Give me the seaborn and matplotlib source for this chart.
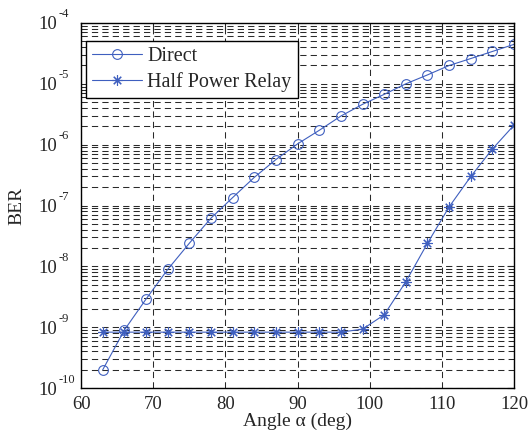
import numpy as np
import pandas as pd
import seaborn as sns
import matplotlib
matplotlib.use("Agg")
import matplotlib.pyplot as plt
from matplotlib.ticker import LogLocator, FixedLocator, NullFormatter

angles = [63, 66, 69, 72, 75, 78, 81, 84, 87, 90, 93, 96, 99, 102, 105, 108, 111, 114, 117, 120]
ber_direct = [2.0e-10, 9.0e-10, 2.9e-9, 8.9e-9, 2.4e-8, 6.2e-8, 1.35e-7, 2.9e-7, 5.7e-7, 1.03e-6,
              1.72e-6, 2.95e-6, 4.6e-6, 6.7e-6, 1.0e-5, 1.4e-5, 2.0e-5, 2.6e-5, 3.4e-5, 4.45e-5]
ber_relay = [8.3e-10, 8.3e-10, 8.3e-10, 8.3e-10, 8.3e-10, 8.3e-10, 8.3e-10, 8.3e-10, 8.3e-10, 8.3e-10,
             8.3e-10, 8.3e-10, 9.3e-10, 1.6e-9, 5.6e-9, 2.4e-8, 9.5e-8, 3.0e-7, 8.5e-7, 2.1e-6]
series_names = ["Direct", "Half Power Relay"]
x_ticks = [60, 70, 80, 90, 100, 110, 120]
y_exponents = [-10, -9, -8, -7, -6, -5, -4]

df_direct = pd.DataFrame({"angle": angles, "ber": ber_direct})
df_relay = pd.DataFrame({"angle": angles, "ber": ber_relay})

sns.set_style("white")
plt.rcParams["font.family"] = ["Liberation Serif", "DejaVu Serif"]

blue = "#3f5fbf"
fig = plt.figure(figsize=(5.30, 4.41), dpi=100)
ax = fig.add_axes([0.153, 0.120, 0.817, 0.828])

sns.lineplot(data=df_direct, x="angle", y="ber", ax=ax, color=blue, label=series_names[0],
             marker="o", linewidth=0.8, markersize=7, markerfacecolor="none",
             markeredgecolor=blue, markeredgewidth=0.8)
sns.lineplot(data=df_relay, x="angle", y="ber", ax=ax, color=blue, label=series_names[1],
             marker=(8, 2, 0), linewidth=0.8, markersize=7.5,
             markeredgecolor=blue, markeredgewidth=0.8)

y_ticks = [10.0 ** e for e in y_exponents]
ax.set_yscale("log")
ax.set_xlim(60, 120)
ax.set_ylim(y_ticks[0], y_ticks[-1])
ax.xaxis.set_major_locator(FixedLocator(x_ticks))
ax.yaxis.set_major_locator(FixedLocator(y_ticks))
ax.yaxis.set_minor_locator(LogLocator(base=10, subs=np.arange(2, 10), numticks=20))
ax.yaxis.set_major_formatter(NullFormatter())
ax.yaxis.set_minor_formatter(NullFormatter())
ax.set_xticklabels([str(v) for v in x_ticks])

# MATLAB-style "10" with raised exponent
ytrans = ax.get_yaxis_transform()
for e, v in zip(y_exponents, y_ticks):
    ax.annotate("10", xy=(0, v), xycoords=ytrans, xytext=(-24, -2),
                textcoords="offset pixels", ha="right", va="center", fontsize=13.5,
                annotation_clip=False)
    ax.annotate("-%d" % abs(e), xy=(0, v), xycoords=ytrans, xytext=(-22.5, 8.5),
                textcoords="offset pixels", ha="left", va="center", fontsize=9,
                annotation_clip=False)

ax.grid(True, which="major", axis="both", color="#2a2a2a", linestyle=(0, (6, 4)), linewidth=0.75)
ax.grid(True, which="minor", axis="y", color="#2a2a2a", linestyle=(0, (6, 4)), linewidth=0.75)

ax.tick_params(axis="both", which="both", direction="in", top=True, right=True, labelsize=13.5)
ax.tick_params(axis="x", which="major", pad=6)
ax.tick_params(axis="both", which="major", length=5)
ax.tick_params(axis="y", which="minor", length=3)
for s in ax.spines.values():
    s.set_color("black")
    s.set_linewidth(1.0)

ax.set_xlabel("Angle α (deg)", fontsize=14)
ax.set_ylabel("BER", fontsize=14)
ax.xaxis.set_label_coords(0.5, (388.3 - 422.0) / 365.0)
ax.xaxis.label.set_va("center")
ax.yaxis.set_label_coords((16.5 - 81.0) / 433.0, 0.5)
ax.yaxis.label.set_va("center")

leg = ax.legend(loc="upper left", bbox_to_anchor=(0.0115, 0.951), fontsize=14.5,
                frameon=True, fancybox=False, edgecolor="black", framealpha=1,
                borderaxespad=0.0, handlelength=2.5, handletextpad=0.25,
                borderpad=0.3, labelspacing=0.3)
leg.get_frame().set_linewidth(1.0)

fig.savefig("out.png", dpi=100)
